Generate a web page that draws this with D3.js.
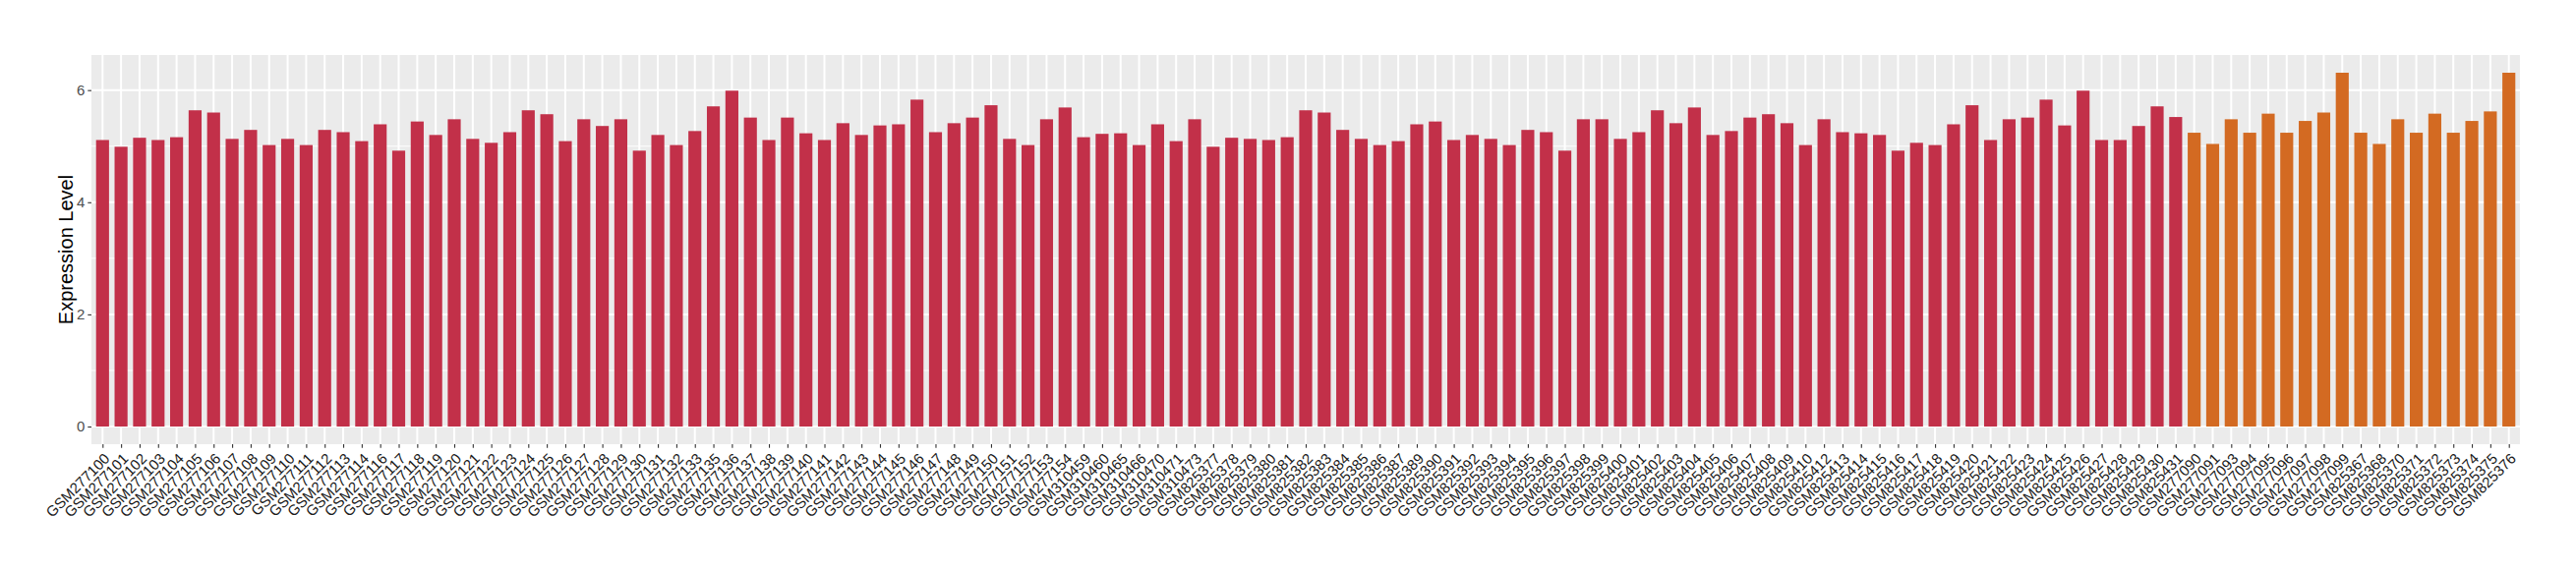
<!DOCTYPE html>
<html>
<head>
<meta charset="utf-8">
<script src="https://cdn.jsdelivr.net/npm/d3@7"></script>
<style>
  body { margin: 0; background: #ffffff; }
  text { font-family: "Liberation Sans", Arial, sans-serif; }
</style>
</head>
<body>
<div id="chart"></div>
<script>

// Samples of the first group (red bars)
const groupASamples = [
  "GSM277100","GSM277101","GSM277102","GSM277103","GSM277104","GSM277105","GSM277106","GSM277107",
  "GSM277108","GSM277109","GSM277110","GSM277111","GSM277112","GSM277113","GSM277114",
  "GSM277116","GSM277117","GSM277118","GSM277119","GSM277120","GSM277121","GSM277122","GSM277123",
  "GSM277124","GSM277125","GSM277126","GSM277127","GSM277128","GSM277129","GSM277130","GSM277131",
  "GSM277132","GSM277133",
  "GSM277135","GSM277136","GSM277137","GSM277138","GSM277139","GSM277140","GSM277141","GSM277142",
  "GSM277143","GSM277144","GSM277145","GSM277146","GSM277147","GSM277148","GSM277149","GSM277150",
  "GSM277151","GSM277152","GSM277153","GSM277154",
  "GSM310459","GSM310460","GSM310465","GSM310466","GSM310470","GSM310471","GSM310473",
  "GSM825377","GSM825378","GSM825379","GSM825380","GSM825381","GSM825382","GSM825383","GSM825384",
  "GSM825385","GSM825386","GSM825387",
  "GSM825389","GSM825390","GSM825391","GSM825392","GSM825393","GSM825394","GSM825395","GSM825396",
  "GSM825397","GSM825398","GSM825399","GSM825400","GSM825401","GSM825402","GSM825403","GSM825404",
  "GSM825405","GSM825406","GSM825407","GSM825408","GSM825409","GSM825410",
  "GSM825412","GSM825413","GSM825414","GSM825415","GSM825416","GSM825417","GSM825418","GSM825419",
  "GSM825420","GSM825421","GSM825422","GSM825423","GSM825424","GSM825425","GSM825426","GSM825427",
  "GSM825428","GSM825429","GSM825430","GSM825431"
];
const groupAValues = [
  5.11, 4.99, 5.15, 5.11, 5.16, 5.64, 5.60, 5.13, 5.29, 5.02, 5.13, 5.02, 5.29, 5.25, 5.09,
  5.39, 4.92, 5.44, 5.20, 5.48, 5.13, 5.06, 5.25, 5.64, 5.57, 5.09, 5.48, 5.36, 5.48, 4.92, 5.20, 5.02, 5.27,
  5.71, 5.99, 5.51, 5.11, 5.51, 5.23, 5.11, 5.41, 5.20, 5.37, 5.39, 5.83, 5.25, 5.41, 5.51, 5.73, 5.13, 5.02, 5.48, 5.69,
  5.16, 5.22, 5.23, 5.02, 5.39, 5.09, 5.48,
  4.99, 5.15, 5.13, 5.11, 5.16, 5.64, 5.60, 5.29, 5.13, 5.02, 5.09,
  5.39, 5.44, 5.11, 5.20, 5.13, 5.02, 5.29, 5.25, 4.92, 5.48, 5.48, 5.13, 5.25, 5.64, 5.41, 5.69, 5.20, 5.27, 5.51, 5.57, 5.41, 5.02,
  5.48, 5.25, 5.23, 5.20, 4.92, 5.06, 5.02, 5.39, 5.73, 5.11, 5.48, 5.51, 5.83, 5.37, 5.99, 5.11, 5.11, 5.36, 5.71, 5.52
];

// Samples of the second group (orange bars)
const groupBSamples = [
  "GSM277090","GSM277091","GSM277093","GSM277094","GSM277095","GSM277096","GSM277097","GSM277098","GSM277099",
  "GSM825367","GSM825368","GSM825370","GSM825371","GSM825372","GSM825373","GSM825374","GSM825375","GSM825376"
];
const groupBValues = [
  5.24, 5.04, 5.48, 5.24, 5.58, 5.24, 5.45, 5.60, 6.31,
  5.24, 5.04, 5.48, 5.24, 5.58, 5.24, 5.45, 5.62, 6.31
];

const groupColors = ["#C23049", "#D36A22"];
const yTicks = [0, 2, 4, 6];
const yMinorTicks = [1, 3, 5];
const yTitle = "Expression Level";

let Chart = (() => {

  let self = {};

  self.margin = {top: 56, right: 57, bottom: 128, left: 93};
  self.width = 2620 - self.margin.left - self.margin.right;
  self.height = 580 - self.margin.top - self.margin.bottom;

  // join the two groups into one table for the scales
  const buildData = () => {
    const a = groupASamples.map((s, i) => ({sample: s, value: groupAValues[i], group: 0}));
    const b = groupBSamples.map((s, i) => ({sample: s, value: groupBValues[i], group: 1}));
    return a.concat(b);
  }

  self.draw = (divName) => {
    const data = buildData();

    const svg = d3.select(divName)
      .append("svg")
      .attr("width", 2620)
      .attr("height", 580)
      .style("display", "block");

    const g = svg.append("g")
      .attr("transform", `translate(${self.margin.left},${self.margin.top})`);

    // ggplot style discrete scale, 0.6 step of padding at both ends
    const n = data.length;
    const step = self.width / (n - 1 + 1.2);
    const x = d3.scalePoint()
      .domain(data.map(d => d.sample))
      .range([0.6 * step, self.width - 0.6 * step]);
    const barW = step * 0.7;

    const maxV = d3.max(data, d => d.value);
    const y = d3.scaleLinear()
      .domain([-0.05 * maxV, maxV * 1.05])
      .range([self.height, 0]);

    // panel background
    g.append("rect")
      .attr("width", self.width)
      .attr("height", self.height)
      .attr("fill", "#EBEBEB");

    // minor gridlines
    g.selectAll(".minor")
      .data(yMinorTicks)
      .enter()
      .append("line")
        .attr("x1", 0).attr("x2", self.width)
        .attr("y1", d => y(d)).attr("y2", d => y(d))
        .attr("stroke", "#ffffff")
        .attr("stroke-width", 1);

    // major gridlines
    g.selectAll(".major")
      .data(yTicks)
      .enter()
      .append("line")
        .attr("x1", 0).attr("x2", self.width)
        .attr("y1", d => y(d)).attr("y2", d => y(d))
        .attr("stroke", "#ffffff")
        .attr("stroke-width", 2);

    g.selectAll(".vgrid")
      .data(data)
      .enter()
      .append("line")
        .attr("x1", d => x(d.sample)).attr("x2", d => x(d.sample))
        .attr("y1", 0).attr("y2", self.height)
        .attr("stroke", "#ffffff")
        .attr("stroke-width", 2);

    // bars
    g.selectAll(".bar")
      .data(data)
      .enter()
      .append("rect")
        .attr("x", d => x(d.sample) - barW / 2)
        .attr("y", d => y(d.value))
        .attr("width", barW)
        .attr("height", d => y(0) - y(d.value))
        .attr("fill", d => groupColors[d.group]);

    // y axis
    const yAxis = g.append("g")
      .call(d3.axisLeft(y).tickValues(yTicks).tickSize(3.7).tickPadding(3).tickFormat(d3.format("d")));
    yAxis.select(".domain").remove();
    yAxis.selectAll(".tick line").attr("stroke", "#333333").attr("stroke-width", 1.1);
    yAxis.selectAll(".tick text")
      .attr("fill", "#4D4D4D")
      .style("font-size", "15px")
      .style("font-family", "'Liberation Sans', Arial, sans-serif");

    // x axis
    const xAxis = g.append("g")
      .attr("transform", `translate(0,${self.height})`)
      .call(d3.axisBottom(x).tickSize(3.7).tickPadding(0));
    xAxis.select(".domain").remove();
    xAxis.selectAll(".tick line").attr("stroke", "#333333").attr("stroke-width", 1.1);
    xAxis.selectAll(".tick text")
      .attr("fill", "#1a1a1a")
      .attr("text-anchor", "end")
      .attr("y", 0)
      .attr("dy", "0.35em")
      .attr("transform", "translate(4,12) rotate(-45)")
      .style("font-size", "15px")
      .style("font-family", "'Liberation Sans', Arial, sans-serif");

    // y title
    svg.append("text")
      .attr("transform", `translate(74,${self.margin.top + self.height / 2}) rotate(-90)`)
      .attr("text-anchor", "middle")
      .attr("fill", "#000000")
      .style("font-size", "20px")
      .text(yTitle);
  }

  return self;
})();

Chart.draw("#chart");
</script>
</body>
</html>
